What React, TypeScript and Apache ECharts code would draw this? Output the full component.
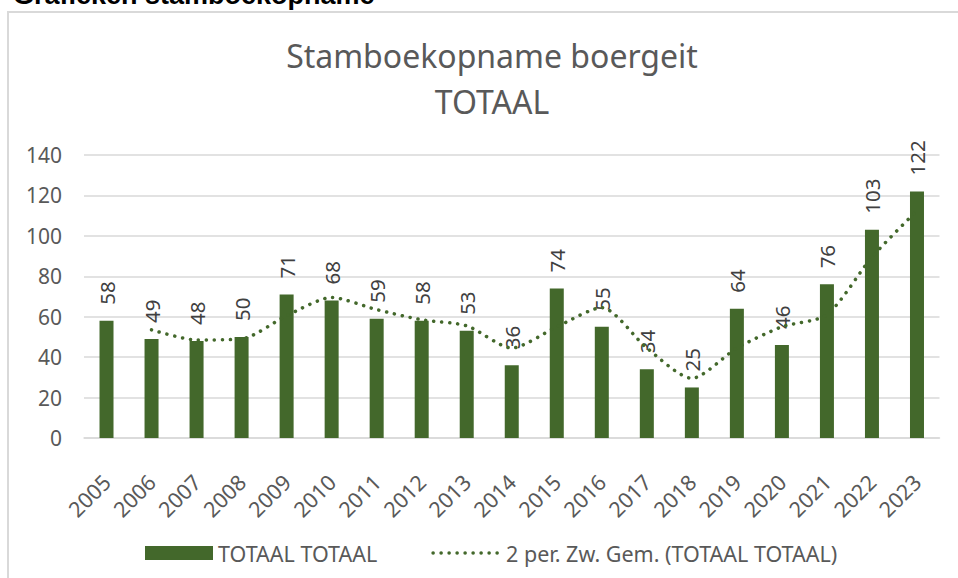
import React, { useEffect, useRef } from "react";
import * as echarts from "echarts";

const years = ["2005","2006","2007","2008","2009","2010","2011","2012","2013","2014","2015","2016","2017","2018","2019","2020","2021","2022","2023"];
const totals = [58, 49, 48, 50, 71, 68, 59, 58, 53, 36, 74, 55, 34, 25, 64, 46, 76, 103, 122];
const movingAvg = [null, 53.5, 48.5, 49, 60.5, 69.5, 63.5, 58.5, 55.5, 44.5, 55, 64.5, 44.5, 29.5, 44.5, 55, 61, 89.5, 112.5];
const yTicks = { min: 0, max: 140, interval: 20 };

const GREEN = "#43682B";
const FONT = "'Noto Sans', sans-serif";

export default function App() {
  const ref = useRef<HTMLDivElement>(null);
  useEffect(() => {
    if (!ref.current) return;
    const chart = echarts.init(ref.current, null, { renderer: "svg" });
    chart.setOption({
      animation: false,
      backgroundColor: "#ffffff",
      textStyle: { fontFamily: FONT },
      title: {
        text: "Stamboekopname boergeit\nTOTAAL",
        left: 487,
        top: 27,
        textAlign: "center",
        textStyle: { fontFamily: FONT, fontSize: 32, fontWeight: "normal", color: "#595959", lineHeight: 46 },
      },
      graphic: [
        {
          type: "rect",
          shape: { x: 8, y: 12, width: 980, height: 600 },
          style: { fill: "none", stroke: "#D9D9D9", lineWidth: 2 },
          silent: true,
        },
        {
          type: "text",
          x: 13,
          y: -19,
          style: { text: "Grafieken stamboekopname", fill: "#000000", font: "bold 27px 'Liberation Sans', sans-serif", verticalAlign: "top" },
          silent: true,
        },
      ],
      legend: {
        left: 140,
        top: 537,
        itemWidth: 68,
        itemHeight: 14,
        itemGap: 54,
        textStyle: { fontFamily: FONT, fontSize: 21.5, color: "#595959" },
        data: [
          { name: "TOTAAL TOTAAL", icon: "rect" },
          {
            name: "2 per. Zw. Gem. (TOTAAL TOTAAL)",
            itemStyle: { color: "rgba(0,0,0,0)", opacity: 0, borderWidth: 0 },
            lineStyle: { color: GREEN, width: 3.5, type: [0.1, 7.9], cap: "round" },
          },
        ],
      },
      grid: { left: 84, right: 18.5, top: 155, bottom: 140, containLabel: false },
      xAxis: {
        type: "category",
        data: years,
        axisLine: { lineStyle: { color: "#D9D9D9", width: 1.5 } },
        axisTick: { show: false },
        axisLabel: { rotate: 45, fontSize: 21.5, color: "#595959", fontFamily: FONT, margin: 40, interval: 0 },
      },
      yAxis: {
        type: "value",
        min: yTicks.min,
        max: yTicks.max,
        interval: yTicks.interval,
        axisLine: { show: false },
        axisTick: { show: false },
        axisLabel: { fontSize: 21, color: "#595959", fontFamily: FONT, margin: 22 },
        splitLine: { lineStyle: { color: "#D9D9D9", width: 1.5 } },
      },
      series: [
        {
          name: "TOTAAL TOTAAL",
          type: "bar",
          data: totals,
          barWidth: 14,
          itemStyle: { color: GREEN },
          label: {
            show: true,
            position: "top",
            rotate: 90,
            align: "left",
            verticalAlign: "middle",
            distance: 16,
            fontSize: 20.5,
            color: "#404040",
            fontFamily: FONT,
          },
          z: 2,
        },
        {
          name: "2 per. Zw. Gem. (TOTAAL TOTAAL)",
          type: "line",
          data: movingAvg,
          symbol: "none",
          smooth: 0.25,
          lineStyle: { color: GREEN, width: 3.5, type: [0.1, 7.9], cap: "round" },
          itemStyle: { color: GREEN },
          z: 3,
        },
      ],
    });
    return () => chart.dispose();
  }, []);
  return (
    <div
      ref={ref}
      style={{ position: "absolute", left: 0, top: 0, width: 958, height: 578 }}
    />
  );
}
